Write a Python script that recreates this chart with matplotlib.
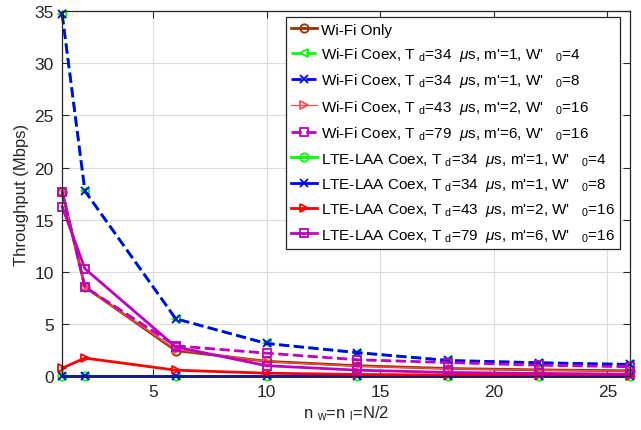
import matplotlib
matplotlib.use("Agg")
import matplotlib.pyplot as plt
import numpy as np

plt.rcParams['font.family'] = ['Liberation Sans', 'DejaVu Sans']
plt.rcParams['mathtext.fontset'] = 'custom'
plt.rcParams['mathtext.rm'] = 'Liberation Sans'
plt.rcParams['mathtext.it'] = 'Liberation Sans:italic'

# Number of nodes per network
n_nodes = [1, 2, 6, 10, 14, 18, 22, 26]

# Throughput (Mbps)
wifi_only = [17.7, 8.55, 2.45, 1.42, 1.0, 0.73, 0.6, 0.51]
wifi_34_w4 = [34.7, 17.75, 5.5, 3.13, 2.25, 1.5, 1.28, 1.12]
wifi_34_w8 = [34.7, 17.75, 5.5, 3.13, 2.25, 1.5, 1.28, 1.12]
wifi_43_w16 = [17.7, 8.5, 2.55, 1.4, 0.95, 0.7, 0.58, 0.48]
wifi_79_w16 = [17.7, 8.55, 2.9, 2.2, 1.57, 1.3, 1.05, 0.9]
lte_34_w4 = [0, 0, 0, 0, 0, 0, 0, 0]
lte_34_w8 = [0, 0, 0, 0, 0, 0, 0, 0]
lte_43_w16 = [0.77, 1.73, 0.57, 0.28, 0.16, 0.1, 0.07, 0.05]
lte_79_w16 = [16.25, 10.3, 2.8, 1.0, 0.57, 0.35, 0.26, 0.19]

labels = [
    "Wi-Fi Only",
    r"Wi-Fi Coex, T $_{\rm d}$=34  $\mu$s, m'=1, W'   $_{\rm 0}$=4",
    r"Wi-Fi Coex, T $_{\rm d}$=34  $\mu$s, m'=1, W'   $_{\rm 0}$=8",
    r"Wi-Fi Coex, T $_{\rm d}$=43  $\mu$s, m'=2, W'   $_{\rm 0}$=16",
    r"Wi-Fi Coex, T $_{\rm d}$=79  $\mu$s, m'=6, W'   $_{\rm 0}$=16",
    r"LTE-LAA Coex, T $_{\rm d}$=34  $\mu$s, m'=1, W'   $_{\rm 0}$=4",
    r"LTE-LAA Coex, T $_{\rm d}$=34  $\mu$s, m'=1, W'   $_{\rm 0}$=8",
    r"LTE-LAA Coex, T $_{\rm d}$=43  $\mu$s, m'=2, W'   $_{\rm 0}$=16",
    r"LTE-LAA Coex, T $_{\rm d}$=79  $\mu$s, m'=6, W'   $_{\rm 0}$=16",
]

brown = (0.6, 0.2, 0.0)
magenta = (0.75, 0.0, 0.75)

fig = plt.figure(figsize=(6.41, 4.31), dpi=100)
ax = fig.add_axes([0.097, 0.125, 0.886, 0.847])

kw = dict(clip_on=False, markersize=6, markeredgewidth=1.3)
ax.plot(n_nodes, wifi_only, '-o', color=brown, lw=2, mfc='none', label=labels[0], **kw)
ax.plot(n_nodes, wifi_34_w4, '--<', color=(0, 1, 0), lw=2, mfc='none', label=labels[1], **kw)
ax.plot(n_nodes, wifi_34_w8, '--x', color=(0, 0, 1), lw=2, label=labels[2], **kw)
ax.plot(n_nodes, wifi_43_w16, '->', color=(1, 0.3, 0.3), lw=0.9, mfc='none', label=labels[3], **kw)
ax.plot(n_nodes, wifi_79_w16, '--s', color=magenta, lw=2, mfc='none', label=labels[4], **kw)
ax.plot(n_nodes, lte_34_w4, '-o', color=(0, 1, 0), lw=2, mfc='none', label=labels[5], **kw)
ax.plot(n_nodes, lte_34_w8, '-x', color=(0, 0, 1), lw=2, label=labels[6], **kw)
ax.plot(n_nodes, lte_43_w16, '->', color=(1, 0, 0), lw=2, mfc='none', label=labels[7], **kw)
ax.plot(n_nodes, lte_79_w16, '-s', color=magenta, lw=2, mfc='none', label=labels[8], **kw)

ax.set_xlim(1, 26)
ax.set_ylim(0, 35)
ax.set_xticks([5, 10, 15, 20, 25])
ax.set_yticks(np.arange(0, 36, 5))
ax.tick_params(direction='in', top=True, right=True, labelsize=12.5, colors='#262626',
               length=5, pad=6)
ax.grid(True, color='#dcdcdc', lw=0.8)
ax.set_axisbelow(True)
for s in ax.spines.values():
    s.set_color('#262626')
    s.set_linewidth(0.9)

ax.set_xlabel(r"n $_{\rm w}$=n $_{\rm l}$=N/2", fontsize=12, color='#262626', labelpad=3)
ax.set_ylabel("Throughput (Mbps)", fontsize=12, color='#262626', labelpad=4)

leg = ax.legend(loc='upper right', bbox_to_anchor=(0.983, 0.983), fontsize=11,
                handlelength=1.7, handletextpad=0.25, labelspacing=0.55,
                borderpad=0.35, borderaxespad=0.0, fancybox=False, framealpha=1,
                edgecolor='#262626')
leg.get_frame().set_linewidth(0.9)

fig.savefig("out.png", dpi=100)
